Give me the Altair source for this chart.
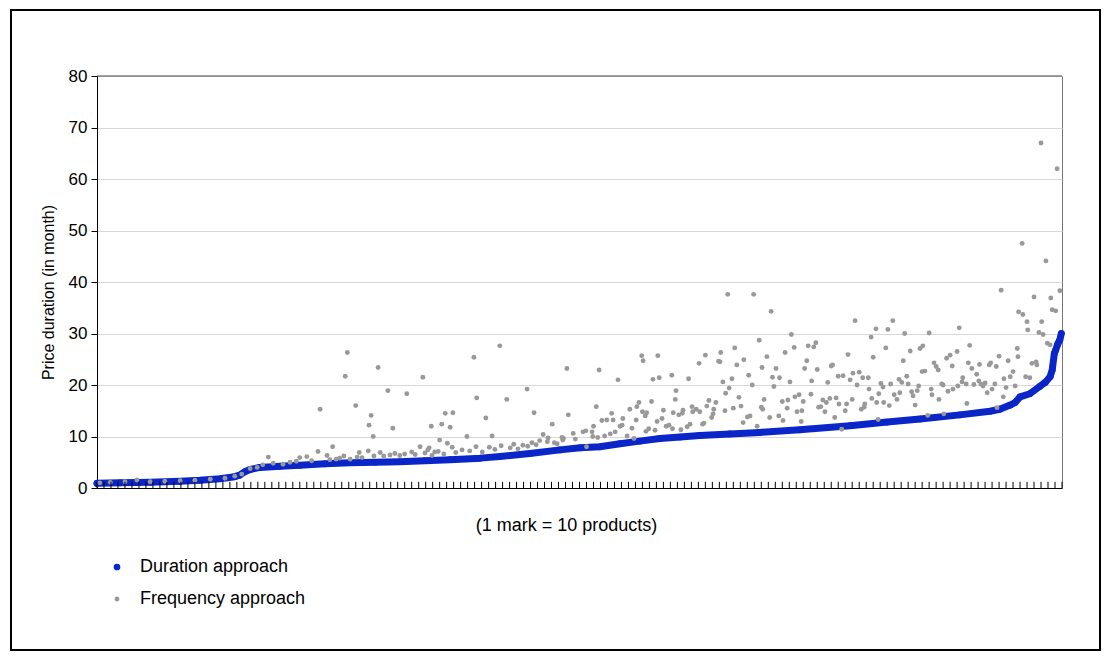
import altair as alt
import pandas as pd

N_PRODUCTS = 1380
SERIES = ["Duration approach", "Frequency approach"]
BLUE = "#0a26c8"
GRAY = "#999999"
FONT = "Liberation Sans"

y_ticks = [0, 10, 20, 30, 40, 50, 60, 70, 80]
x_tick_marks = list(range(0, N_PRODUCTS + 1, 10))

# Duration approach (sorted, blue)
dur_rank = [0, 33, 76, 119, 147, 176, 197, 204, 212, 219, 233, 262, 290, 326, 362, 398,
            433, 469, 505, 548, 576, 619, 662, 691, 719, 748, 776, 805, 834, 862, 905,
            948, 1005, 1077, 1130, 1177, 1234, 1277, 1291, 1306, 1313, 1320, 1334, 1348,
            1356, 1363, 1366, 1369, 1371, 1374, 1377, 1379]
dur_value = [0.9, 1.0, 1.1, 1.3, 1.5, 1.8, 2.2, 2.5, 3.2, 3.6, 4.0, 4.2, 4.4, 4.7, 4.9, 5.0,
             5.1, 5.3, 5.5, 5.8, 6.1, 6.7, 7.4, 7.8, 8.0, 8.6, 9.1, 9.6, 9.9, 10.2, 10.5,
             10.8, 11.3, 12.1, 12.8, 13.4, 14.2, 14.9, 15.3, 16.1, 16.6, 17.7, 18.3, 19.7,
             20.5, 21.6, 22.9, 26.1, 26.8, 28.0, 28.8, 30.0]

# Frequency approach (grey)
freq_rank = [
    4, 19, 40, 57, 76, 97, 119, 140, 162, 183, 197,
    207, 219, 229, 237, 245, 252, 266, 276, 285, 290, 300, 307, 316, 319, 329, 333, 337,
    342, 347, 353, 355, 358, 362, 370, 372, 375, 379, 388, 389, 392, 395, 396, 402, 405,
    410, 416, 419, 423, 426, 433, 440, 443, 450, 455, 462, 466, 469, 475,
    473, 478, 479, 483, 488, 490, 493, 496, 498, 501, 505, 508, 509, 513, 522, 529, 533,
    539, 542, 543, 551, 556, 561, 565, 569, 576, 578, 586, 591, 596, 602, 609, 615, 616,
    622, 625, 628, 633, 638, 644, 645, 651, 654, 658, 665, 666, 672, 674,
    667, 681, 684, 695, 699, 700, 708, 709, 710, 714, 716, 718, 722, 726, 729, 734, 736,
    738, 741, 745, 748, 751, 752, 758, 762, 765, 768, 771, 772, 775, 779, 780, 781, 784,
    785, 786, 789, 793, 795, 798, 801, 802, 804, 808, 810, 814, 818, 822, 823, 824, 827,
    828, 832, 835, 837, 838, 844, 846, 848, 851, 852, 857, 861, 862, 866, 868, 870, 872,
    875, 879, 881, 882, 885, 889, 892, 895, 898, 899, 902, 904,
    891, 908, 910, 912, 915, 918, 921, 924, 925, 930, 932, 934, 937, 939, 951, 944, 947,
    950, 952, 954, 958, 962, 964, 966, 968, 971, 975, 976, 980, 981, 984, 987, 988, 991,
    993, 997, 998, 1001, 1004, 1007, 1008, 1010, 1012, 1015, 1017, 1021, 1022, 1025, 1028,
    1030, 1032, 1035, 1038, 1041, 1043, 1045, 1048, 1050, 1052, 1055, 1057, 1060, 1061,
    1065, 1067, 1070, 1072, 1074, 1077, 1080, 1081, 1084, 1087, 1090, 1093, 1095, 1097,
    1098, 1103, 1104, 1107, 1108, 1110, 1114, 1115, 1117, 1118, 1121, 1124, 1125, 1128,
    1131, 1133,
    1135, 1138, 1140, 1144, 1147, 1148, 1151, 1153, 1155, 1158, 1160, 1163, 1165, 1167,
    1170, 1173, 1175, 1177, 1180, 1181, 1184, 1188, 1190, 1193, 1194, 1197, 1200, 1203,
    1204, 1208, 1210, 1211, 1215, 1217, 1220, 1223, 1224, 1230, 1231, 1233, 1237, 1238,
    1243, 1244, 1246, 1248, 1251, 1254, 1258, 1261, 1262, 1264, 1267, 1270, 1273, 1276,
    1278, 1280, 1284, 1286, 1287, 1290, 1293, 1296, 1297, 1300, 1303, 1306, 1310, 1313,
    1316, 1317, 1318, 1323, 1324, 1328, 1330, 1331, 1334, 1337, 1340, 1343, 1344, 1347,
    1350, 1351, 1353, 1357, 1359, 1363, 1364, 1366, 1371, 1373, 1377]
freq_value = [
    1.0, 1.1, 1.2, 1.55, 1.2, 1.3, 1.4, 1.5, 1.7, 1.9, 2.3,
    2.7, 3.8, 4.0, 4.5, 6.0, 4.8, 4.6, 5.0, 5.2, 5.9, 6.1, 5.3, 7.1, 15.3, 6.3, 5.5, 8.0,
    5.6, 5.8, 6.2, 21.7, 26.3, 5.6, 16.0, 6.0, 6.9, 5.9, 7.2, 12.2, 14.1, 10.0, 6.2, 23.4, 6.9,
    6.2, 18.9, 6.4, 11.6, 6.7, 6.3, 6.6, 18.3, 7.0, 6.5, 8.0, 21.5, 6.8, 7.8,
    7.4, 12.0, 6.3, 7.0, 7.1, 9.3, 12.4, 6.6, 14.5, 8.7, 11.8, 7.9, 14.6, 6.9, 7.4, 10.0, 7.2,
    25.4, 8.0, 17.5, 7.0, 13.6, 7.9, 10.1, 7.5, 27.6, 8.2, 17.2, 7.8, 8.5, 7.6, 8.3, 19.2, 8.1,
    8.8, 14.6, 8.4, 9.2, 10.4, 9.0, 9.7, 12.4, 8.8, 8.6, 9.8, 9.3, 23.2, 14.2,
    9.6, 10.6, 9.5, 10.9, 11.1, 8.0, 10.9, 10.0, 12.0, 15.8, 9.8, 22.9, 13.1, 10.1, 13.2, 10.5, 14.5,
    13.2, 10.9, 21.0, 12.0, 12.2, 13.5, 10.1, 15.3, 11.6, 9.6, 13.2, 15.8, 16.6, 25.7, 14.8, 24.7, 14.0,
    11.0, 14.6, 11.5, 16.8, 21.1, 11.2, 12.9, 25.7, 21.4, 13.5, 15.1, 12.0, 12.2, 21.9, 11.5, 14.6, 17.2,
    18.9, 14.2, 11.3, 14.5, 15.1, 11.9, 21.2, 12.4, 15.8, 14.8, 15.3, 24.2, 14.8, 12.4, 12.6, 25.8, 15.9,
    17.0, 13.7, 14.4, 15.3, 16.6, 24.6, 26.3, 20.6, 15.0, 18.4, 37.6, 19.4,
    24.5, 21.2, 15.5, 27.2, 23.9, 17.6, 15.9, 12.7, 24.9, 13.8, 21.9, 14.0, 20.0, 37.6, 23.4, 12.0, 28.7,
    15.7, 15.3, 17.2, 25.5, 13.7, 34.3, 21.5, 19.7, 23.2, 14.0, 21.4, 16.8, 13.1, 26.3, 15.5, 17.1, 20.6,
    29.8, 27.3, 17.7, 14.8, 18.1, 12.9, 15.0, 16.8, 23.2, 24.7, 27.6, 18.2, 20.8, 27.4, 28.2,
    23.0, 15.7, 15.8, 17.1, 14.8, 16.6, 20.5, 17.4, 23.7, 23.9, 13.7, 17.5, 21.7, 16.3,
    11.4, 21.8, 15.0, 16.3, 25.9, 21.0, 17.2, 22.3, 32.5, 20.0, 22.5, 15.3, 21.4, 15.7,
    16.3, 21.4, 19.2, 29.3, 17.4, 25.4, 30.9, 16.6, 13.3, 18.3, 20.3, 19.6, 16.6, 27.2,
    30.8, 16.0,
    20.2, 32.5, 18.1, 17.2, 21.1, 18.5, 20.5, 24.7, 30.0, 21.7, 20.2, 26.6, 18.7, 17.9,
    16.1, 18.9, 19.8, 27.1, 22.6, 27.6, 22.7, 14.1, 30.1, 19.2, 18.1, 24.3, 23.6, 22.9,
    17.2, 20.2, 20.0, 14.4, 25.2, 18.8, 25.8, 23.7, 19.2, 26.5, 19.8, 31.1, 20.6, 21.4,
    20.2, 16.4, 24.3, 27.7, 23.2, 20.1, 22.1, 20.8, 24.0, 20.2, 19.8, 20.4, 18.5, 23.9,
    24.3, 19.2, 20.2, 23.6, 15.6, 25.6, 38.4, 17.7, 21.2, 19.5, 24.7, 21.6, 22.6, 19.8,
    27.1, 25.5, 34.2, 47.5, 33.7, 21.6, 32.3, 30.7, 21.4, 24.2, 37.1, 24.5, 23.9, 30.2,
    67.0, 32.3, 29.8, 44.1, 28.1, 27.8, 36.9, 34.6, 34.4, 62.0, 38.3]

df = pd.concat([
    pd.DataFrame({"rank": dur_rank, "value": dur_value, "series": SERIES[0]}),
    pd.DataFrame({"rank": freq_rank, "value": freq_value, "series": SERIES[1]}),
], ignore_index=True)

ticks_df = pd.DataFrame({"rank": x_tick_marks, "value": 0.0, "value_top": 1.2})

x_scale = alt.Scale(domain=[0, N_PRODUCTS], nice=False, zero=False)
y_scale = alt.Scale(domain=[0, 80], nice=False)

x_axis = alt.Axis(title="(1 mark = 10 products)", labels=False, ticks=False, grid=False,
                  domainColor="black", domainWidth=1, titleFont=FONT, titleFontSize=18,
                  titleFontWeight="normal", titleColor="black", titlePadding=28, titleX=469)
y_axis = alt.Axis(title="Price duration (in month)", values=y_ticks, grid=True,
                  gridColor="#dcd6d6",
                  tickSize=6, tickColor="black", domainColor="black", labelPadding=4,
                  labelFont=FONT, labelFontSize=17, labelColor="black", titleFont=FONT,
                  titleFontSize=16, titleFontWeight="normal", titleColor="black",
                  titlePadding=12, titleY=216)

X = alt.X("rank:Q", scale=x_scale, axis=x_axis, title="(1 mark = 10 products)")
Y = alt.Y("value:Q", scale=y_scale, axis=y_axis, title="Price duration (in month)")

band = alt.Chart(df).transform_filter(alt.datum.series == SERIES[0]).mark_line(
    color=BLUE, strokeWidth=7, strokeCap="round", strokeJoin="round"
).encode(x=X, y=Y)

legend = alt.Legend(title=None, orient="none", legendX=11, legendY=482, padding=0,
                    labelFont=FONT, labelFontSize=18, labelColor="black", labelOffset=14,
                    labelLimit=400, rowPadding=14, symbolStrokeWidth=0, symbolType="circle")

points = alt.Chart(df).mark_circle(opacity=1).encode(
    x=X, y=Y,
    color=alt.Color("series:N", scale=alt.Scale(domain=SERIES, range=[BLUE, GRAY]), legend=legend),
    size=alt.Size("series:N", scale=alt.Scale(domain=SERIES, range=[45, 24]), legend=legend),
)

ticks = alt.Chart(ticks_df).mark_rule(color="black", strokeWidth=1).encode(
    x=X, y=Y, y2="value_top:Q",
)

top_line = alt.Chart(pd.DataFrame({"value": [80]})).mark_rule(color="#444444", strokeWidth=1).encode(
    y=Y
)

frame = alt.Chart(alt.Data(values=[{}])).mark_rect(
    fillOpacity=0, stroke="black", strokeWidth=2
).encode(
    x=alt.value(-86), x2=alt.value(1003), y=alt.value(-66), y2=alt.value(574)
)

chart = alt.layer(band, points, ticks, top_line, frame).properties(
    width=965, height=412,
    padding={"left": 89, "top": 68, "right": 40, "bottom": 166},
    autosize=alt.AutoSizeParams(type="none"),
    background="white",
).configure_view(stroke="#777777", strokeWidth=1)

chart.save("out.html", embed_options={"renderer": "svg", "actions": False})
